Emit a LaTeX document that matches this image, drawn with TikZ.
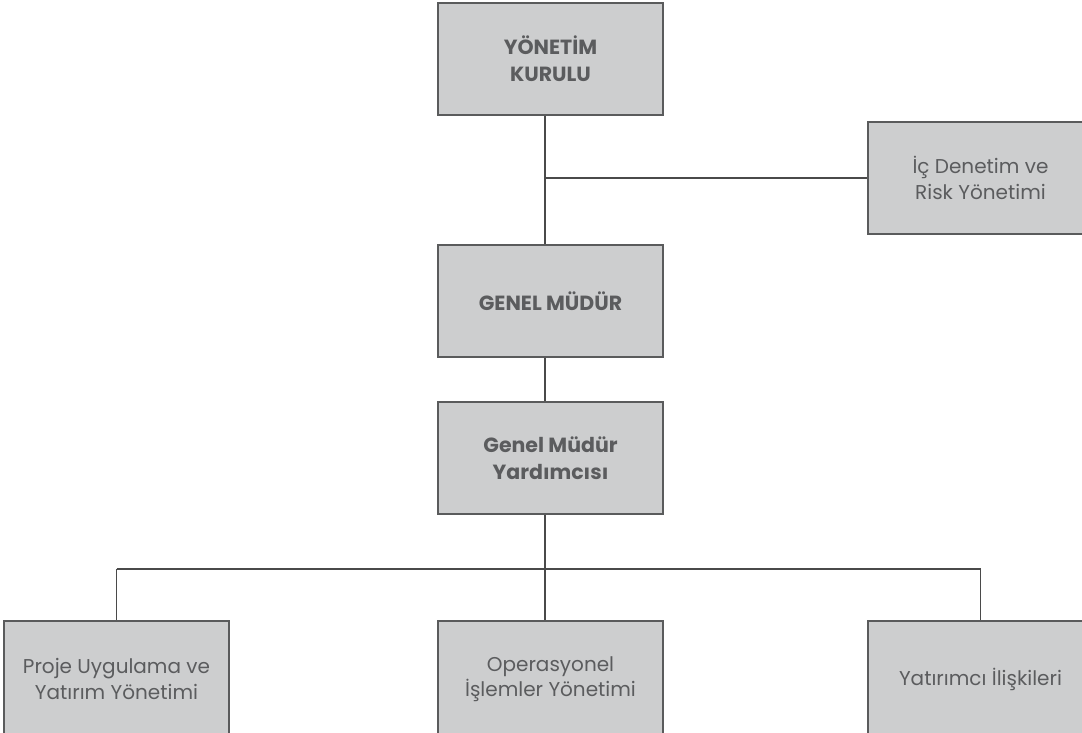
\documentclass[tikz,border=0pt]{standalone}
\usepackage{fontspec}
\setmainfont{Poppins}
\definecolor{boxfill}{HTML}{CDCECF}
\definecolor{boxline}{HTML}{5A5B5C}
\definecolor{txt}{HTML}{5B5C5E}
\definecolor{conn}{HTML}{4A4A4A}
\tikzset{
  orgbox/.style={draw=boxline, line width=1.4pt, fill=boxfill, minimum width=225pt, minimum height=112pt,
     align=center, text=txt, font=\fontsize{20}{25.5}\selectfont, inner sep=0pt},
  headbox/.style={orgbox, font=\fontsize{20.5}{27}\selectfont\bfseries},
  link/.style={draw=conn, line width=1.2pt}
}
\begin{document}
\begin{tikzpicture}[x=1pt,y=-1pt]
\useasboundingbox (0,0) rectangle (1082,732);
\node[headbox] (yk) at (550.5,59) {YÖNETİM\\KURULU};
\node[orgbox] (ic) at (980.5,178) {İç Denetim ve\\Risk Yönetimi};
\node[headbox] (gm) at (550.5,301) {GENEL MÜDÜR};
\node[headbox] (gmy) at (550.5,458) {Genel Müdür\\Yardımcısı};
\node[orgbox, minimum height=116pt] (b1) at (116.5,679) {Proje Uygulama ve\\Yatırım Yönetimi};
\node[orgbox, minimum height=116pt] (b2) at (550.5,679) {Operasyonel\\İşlemler Yönetimi};
\node[orgbox, minimum height=116pt] (b3) at (980.5,679) {Yatırımcı İlişkileri};
\coordinate (j1) at (545,178);
\coordinate (j2) at (545,569);
\draw[link] (yk.south -| j1) -- (gm.north -| j1);
\draw[link] (j1) -- (ic.west |- j1);
\draw[link] (gm.south -| j1) -- (gmy.north -| j1);
\draw[link] (gmy.south -| j2) -- (j2);
\draw[link] (b1.north |- j2) -- (b3.north |- j2);
\draw[link] (b1.north |- j2) -- (b1.north);
\draw[link] (j2) -- (b2.north -| j2);
\draw[link] (b3.north |- j2) -- (b3.north);
\end{tikzpicture}
\end{document}
